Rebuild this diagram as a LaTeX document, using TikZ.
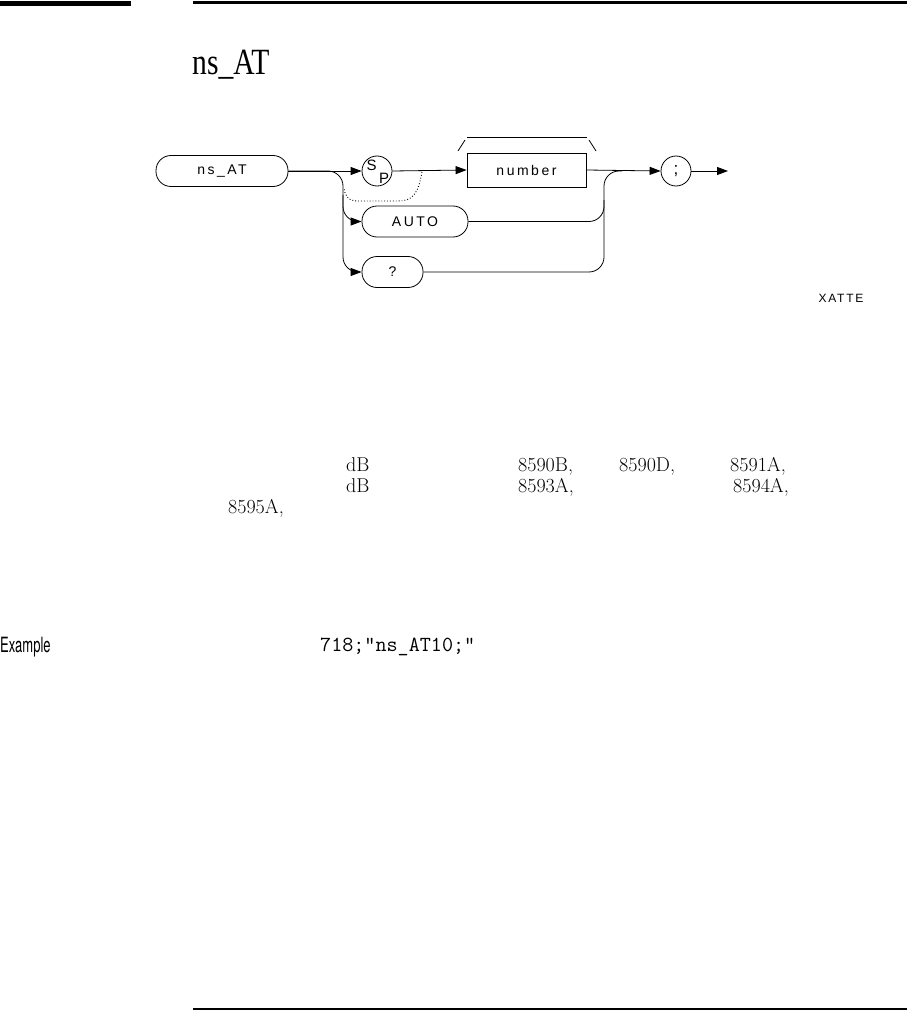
\documentclass[tikz,border=0pt]{standalone}
\usepackage{fontspec}
\usetikzlibrary{arrows.meta}
\newfontfamily\diagfont[LetterSpace=18]{Liberation Sans}
\newfontfamily\xfont[LetterSpace=15]{Liberation Sans}
\newfontfamily\exfont[FakeStretch=0.62]{TeX Gyre Heros}
\newfontfamily\titlefont[FakeStretch=0.8]{Liberation Serif}
\tikzset{
  ln/.style={line width=0.8pt},
  arr/.style={-{Triangle[length=11pt,width=8pt]}},
  dfont/.style={font=\diagfont\fontsize{14}{16}\selectfont},
  rbox/.style={draw, ln, rounded corners=15pt, minimum height=31pt, inner sep=0pt, dfont},
  sqbox/.style={draw, ln, minimum height=34pt, inner sep=0pt, dfont},
  circ/.style={draw, ln, circle, minimum size=30pt, inner sep=0pt, dfont},
  body/.style={anchor=base west, inner sep=0pt, font=\fontsize{20}{24}\selectfont},
  plain/.style={inner sep=0pt, dfont}
}
\begin{document}
\begin{tikzpicture}[x=1pt,y=-1pt]
\useasboundingbox (0,0) rectangle (907,1011);
% header
\fill (0,1) rectangle (131,6);
\draw[line width=2.5pt] (193,2.5) -- (907,2.5);
\node[anchor=base west, inner sep=0pt, font=\titlefont\fontsize{37}{40}\selectfont] (title) at (192,75) {ns\_AT};
% diagram nodes
\node[rbox, minimum width=132pt] (ns) at (222,171) {ns\_AT};
\node[circ] (sp) at (377,171) {};
\node[plain, font=\diagfont\fontsize{15}{16}\selectfont] (spS) at (371.5,165) {S};
\node[plain, font=\diagfont\fontsize{15}{16}\selectfont] (spP) at (384,178) {P};
\node[rbox, minimum width=106pt] (auto) at (415,221.5) {AUTO};
\node[rbox, minimum width=61pt] (q) at (392.5,272) {?};
\node[sqbox, minimum width=119pt] (num) at (526.5,170) {number};
\node[circ, font=\diagfont\fontsize{17}{18}\selectfont] (sc) at (676,171) {;};
\coordinate (end) at (728,171);
\coordinate (split) at (343,171);
\coordinate (splitA) at (343,195);
\coordinate (join) at (604,171);
\coordinate (joinA) at (604,200);
% connectors
\draw[ln,arr] (ns.east) -- (sp.west);
\draw[ln,arr,rounded corners=15pt] (ns.east) -- (split) -- (343,272) -- (q.west);
\draw[ln,arr,rounded corners=15pt] (splitA) -- (343,221.5) -- (auto.west);
\draw[ln,arr] (sp.east) -- (num.west);
\draw[ln,arr] (num.east) -- (sc.west);
\draw[ln,arr] (sc.east) -- (end);
\draw[ln,rounded corners=15pt] (auto.east) -- (604,221.5) -- (joinA);
\draw[ln,rounded corners=15pt] (q.east) -- (604,272) -- (join) -- (622,171);
\draw[dotted, line width=0.9pt] (422,172) .. controls (418,195) and (412,201) .. (398,201) -- (358,201) .. controls (348,201) and (345,196) .. (344,188);
% repeat bracket
\draw[ln] (467,137) -- (587,137);
\draw[ln] (458,151) -- (465,140);
\draw[ln] (589,140) -- (596,151);
\node[font=\xfont\fontsize{12}{13}\selectfont] (xat) at (841,298) {XATTE};
% body text
\node[body] (l1a) at (346,471) {dB};
\node[body] (l1b) at (518,471) {8590B,};
\node[body] (l1c) at (619,471) {8590D,};
\node[body] (l1d) at (730,471) {8591A,};
\node[body] (l2a) at (346,492) {dB};
\node[body] (l2b) at (518,492) {8593A,};
\node[body] (l2c) at (733,492) {8594A,};
\node[body] (l3a) at (228,513) {8595A,};
\node[anchor=base west, inner sep=0pt, font=\exfont\fontsize{21}{22}\selectfont] (ex) at (0,652) {Example};
\node[anchor=base west, inner sep=0pt, font=\ttfamily\fontsize{21.5}{23}\selectfont] (code) at (320,651) {718;"ns\_AT10;"};
\draw[line width=1.5pt] (193,1009) -- (907,1009);
\end{tikzpicture}
\end{document}
